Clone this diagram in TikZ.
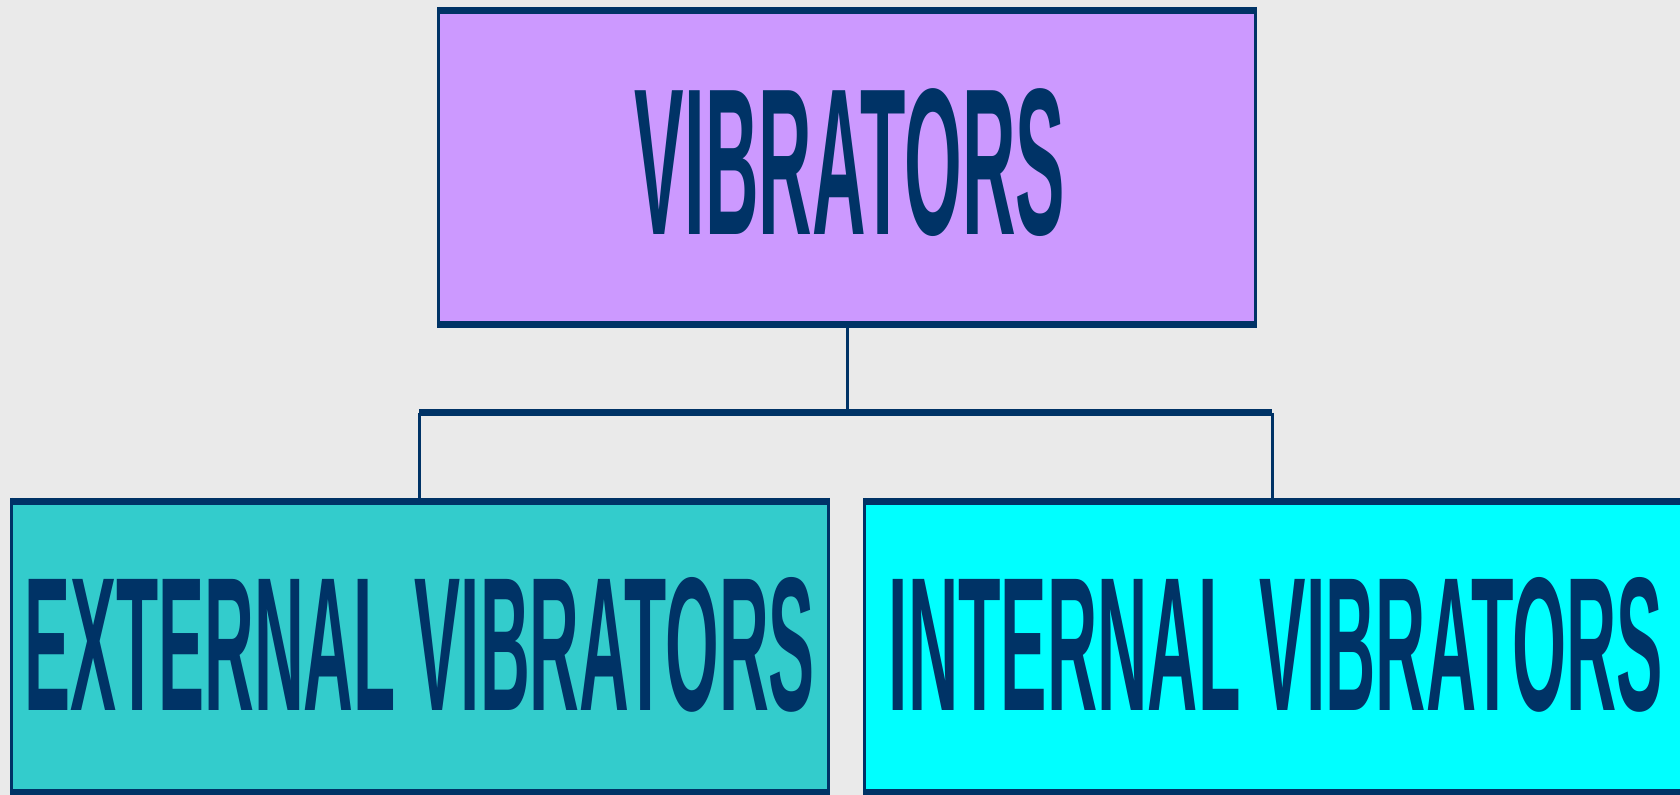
\documentclass[tikz,border=0pt]{standalone}
\usepackage{fontspec}
\setmainfont{Liberation Sans}
\definecolor{navy}{HTML}{003366}
\definecolor{lilac}{HTML}{CC99FF}
\definecolor{teal}{HTML}{33CCCC}
\definecolor{aqua}{HTML}{00FFFF}
\definecolor{paper}{HTML}{EAEAEA}
\tikzset{
  panel/.style={rectangle, inner sep=0pt, outer sep=0pt,
                minimum width=410pt, draw=none},
  rim/.style={navy, line width=3.5pt},
  side/.style={navy, line width=1.5pt},
  wire/.style={navy, line width=1.5pt},
  bus/.style={navy, line width=3.5pt},
  label/.style={inner sep=0pt, outer sep=0pt, anchor=base, text=navy,
                font=\bfseries}
}
\begin{document}
\begin{tikzpicture}[x=0.5pt, y=-0.5pt]
  % canvas
  \fill[paper] (0,0) rectangle (1680,795);
  \useasboundingbox (0,0) rectangle (1680,795);

  % panels
  \node[panel, fill=lilac, minimum height=160.5pt] (top) at (847,167.5) {};
  \node[panel, fill=teal,  minimum height=149pt]   (ext) at (420,647) {};
  \node[panel, fill=aqua,  minimum height=149pt]   (int) at (1273,647) {};

  % panel frames: heavy top and bottom, light sides
  \foreach \p in {top,ext,int}{
    \draw[side] ([xshift=0.75pt]\p.north west) -- ([xshift=0.75pt]\p.south west);
    \draw[side] ([xshift=-0.75pt]\p.north east) -- ([xshift=-0.75pt]\p.south east);
    \draw[rim] ([yshift=-1.75pt]\p.north west) -- ([yshift=-1.75pt]\p.north east);
    \draw[rim] ([yshift=1.75pt]\p.south west) -- ([yshift=1.75pt]\p.south east);
  }

  % tree connectors
  \coordinate (hub) at (847,413);
  \coordinate (hubL) at (419,413);
  \coordinate (hubR) at (1272,413);
  \draw[wire] (top.south) -- (hub);
  \draw[bus] (hubL) -- (hubR);
  \draw[wire] (hubL) -- (hubL |- ext.north);
  \draw[wire] (hubR) -- (hubR |- int.north);

  % captions
  \node[label] (tTop) at (850,235)
    {\scalebox{0.355}[1]{\fontsize{104.5pt}{104.5pt}\selectfont VIBRATORS}};
  \node[label] (tExt) at (419.5,710)
    {\scalebox{0.362}[1]{\fontsize{95.3pt}{95.3pt}\selectfont EXTERNAL VIBRATORS}};
  \node[label] (tInt) at (1276,710)
    {\scalebox{0.365}[1]{\fontsize{95.3pt}{95.3pt}\selectfont INTERNAL VIBRATORS}};
\end{tikzpicture}
\end{document}
